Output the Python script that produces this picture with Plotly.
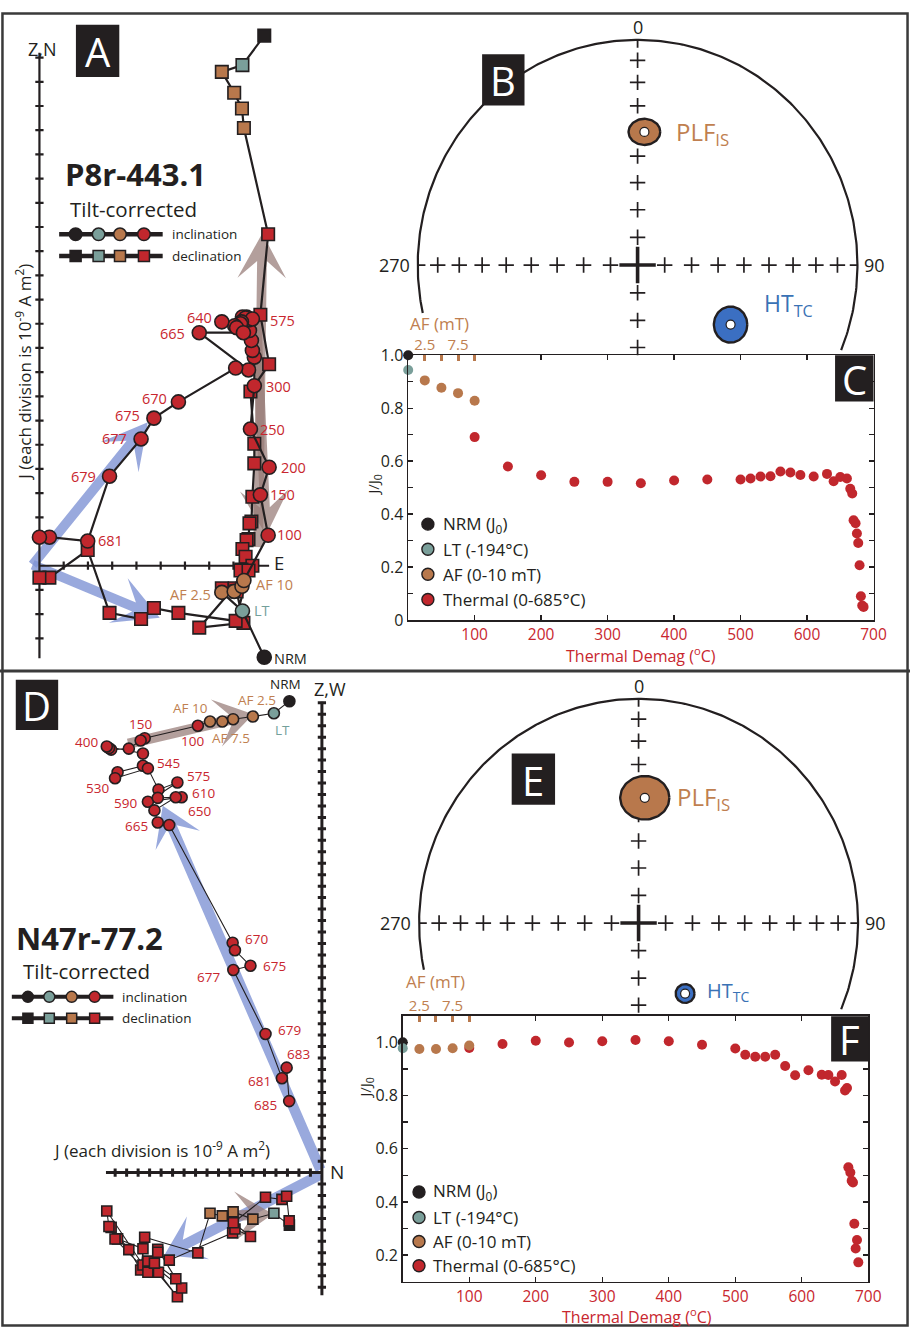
import math
import numpy as np
import plotly.graph_objects as go

W, H = 923, 1339
INK = "#231f20"
RED = "#c1272d"
RED_TXT = "#c8262e"
BROWN = "#b8784c"
BROWN_TXT = "#c07f50"
TEAL = "#7a9f9a"
TEAL_TXT = "#73a09b"
BLUE = "#3b6fc2"
BLUE_TXT = "#3a72b5"
ARROW_BROWN = "rgba(150,122,118,0.72)"
ARROW_BLUE = "rgba(128,148,212,0.80)"
FONT = "Open Sans"

# ---------------------------------------------------------------------------
# P8r-443.1 orthogonal projection (units: divisions of 1e-9 A m^2)
a_step = ["NRM", "LT", "AF 2.5", "AF 5", "AF 7.5", "AF 10",
          "100", "150", "200", "250", "300", "350", "400", "450", "500", "515",
          "530", "545", "560", "575", "590", "610", "630", "640", "650", "660",
          "665", "667", "668", "670", "675", "677", "679", "681", "683", "685"]
a_east = [9.27, 8.37, 7.52, 8.03, 8.35, 8.43,
          9.43, 9.11, 9.47, 8.70, 8.86, 8.86, 8.78, 8.74, 8.66, 8.62,
          8.54, 8.37, 8.50, 8.78, 8.33, 8.29, 8.05, 7.52, 8.13, 8.41,
          6.59, 8.62, 8.09, 5.73, 4.72, 4.19, 2.89, 1.99, 0.41, 0.00]
a_north = [21.91, 20.69, 20.41, 19.55, 18.90, 18.09,
           13.70, 10.37, 8.33, 7.20, 5.04, 4.23, 2.85, 1.83, 1.75, 1.10,
           1.06, 0.69, 0.37, 0.00, -0.16, -0.20, -0.93, -0.93, -1.06, -2.36,
           -2.56, -0.20, -2.28, -1.95, -1.75, -2.20, -1.95, 0.65, -0.49, -0.49]
a_up = [-3.78, -1.87, -1.10, -1.06, -0.85, -0.61,
        1.26, 2.93, 4.07, 5.65, 7.44, 8.62, 8.90, 9.31, 9.72, 10.16,
        10.28, 10.28, 10.24, 10.20, 10.08, 10.00, 9.92, 10.08, 9.84, 9.63,
        9.63, 8.09, 8.17, 6.77, 6.10, 5.24, 3.70, 1.02, 1.18, 1.18]

# N47r-77.2 orthogonal projection
d_step = ["NRM", "LT", "AF 2.5", "AF 5", "AF 7.5", "AF 10",
          "100", "150", "200", "250", "300", "350", "400", "450", "500", "515",
          "530", "545", "560", "575", "590", "610", "630", "650", "660", "665",
          "668", "670", "673", "675", "677", "679", "681", "683", "685"]
d_north = [-2.83, -4.18, -6.01, -7.73, -8.67, -9.74,
           -10.80, -15.43, -15.78, -16.81, -18.35, -18.54, -18.73, -15.58, -15.58, -17.79,
           -18.01, -15.15, -14.23, -12.58, -15.15, -12.21, -14.29, -12.72, -14.58, -14.29,
           -13.29, -7.77, -7.57, -6.22, -7.71, -4.91, -3.48, -3.07, -2.85]
d_up = [41.14, 40.09, 39.80, 39.57, 39.37, 39.37,
        39.00, 37.91, 37.71, 37.00, 36.91, 37.04, 37.19, 36.57, 35.51, 34.94,
        34.42, 35.28, 33.42, 34.05, 32.36, 32.76, 32.70, 32.76, 31.61, 30.56,
        30.33, 20.06, 19.40, 18.05, 17.68, 12.10, 8.24, 9.16, 6.24]
d_west = [-4.58, -3.55, -4.06, -3.43, -3.78, -3.55,
          -7.01, -5.64, -8.50, -6.72, -4.78, -4.70, -3.35, -8.07, -6.64, -5.78,
          -5.80, -8.70, -8.69, -10.84, -7.73, -10.07, -6.70, -9.27, -7.90, -6.95,
          -7.64, -5.26, -4.92, -5.58, -4.38, -2.15, -2.34, -2.06, -4.21]

# component directions drawn as broad arrows (start x, start y, tip x, tip y)
a_arrows = [
    (-0.28, 0.04, 4.47, 5.93, ARROW_BLUE),
    (-0.28, 0.04, 4.96, -2.15, ARROW_BLUE),
    (9.02, 0.77, 9.19, 13.74, ARROW_BROWN),
    (8.94, 10.33, 9.35, 1.26, ARROW_BROWN),
]
d_arrows = [
    (-16.87, 37.42, -5.97, 40.00, ARROW_BROWN),
    (-0.13, 0.26, -13.86, 32.02, ARROW_BLUE),
    (-0.13, -0.17, -13.72, -7.21, ARROW_BLUE),
    (-8.07, -3.78, -4.25, -3.61, ARROW_BROWN),
]

# ---------------------------------------------------------------------------
# Equal-area stereonets: mean directions with confidence ellipses
dir_name = ["PLF<sub>IS</sub>", "HT<sub>TC</sub>"]
b_dec = [3.0, 122.0]
b_inc = [40.5, 48.7]
b_semi_a = [0.072, 0.076]
b_semi_b = [0.058, 0.080]
e_dec = [2.9, 146.0]
e_inc = [43.4, 58.9]
e_semi_a = [0.112, 0.043]
e_semi_b = [0.097, 0.042]

# ---------------------------------------------------------------------------
# Normalised intensity during demagnetisation
af_field = [2.5, 5.0, 7.5, 10.0]          # mT
temps = [100, 150, 200, 250, 300, 350, 400, 450, 500, 515,
         530, 545, 560, 575, 590, 610, 630, 640, 650, 660,
         665, 668, 670, 673, 675, 677, 679, 681, 683, 685]
c_nrm, c_lt = 1.0, 0.944
c_af = [0.905, 0.877, 0.857, 0.828]
c_th = [0.691, 0.580, 0.547, 0.522, 0.522, 0.517, 0.527, 0.531, 0.531, 0.535,
        0.542, 0.543, 0.561, 0.557, 0.548, 0.542, 0.552, 0.524, 0.540, 0.535,
        0.496, 0.478, 0.377, 0.366, 0.327, 0.291, 0.207, 0.090, 0.055, 0.050]
f_nrm, f_lt = 1.0, 0.978
f_af = [0.975, 0.975, 0.978, 0.988]
f_th = [0.979, 0.994, 1.006, 0.999, 1.004, 1.009, 1.004, 0.991, 0.977, 0.953,
        0.946, 0.946, 0.953, 0.911, 0.876, 0.895, 0.878, 0.877, 0.853, 0.877,
        0.819, 0.828, 0.530, 0.511, 0.480, 0.473, 0.318, 0.225, 0.257, 0.173]
AF_TO_AXIS = 10.0   # AF steps share the temperature axis (1 mT -> 10 units)

legend_names = ["NRM (J<sub>0</sub>)", "LT (-194°C)", "AF (0-10 mT)", "Thermal (0-685°C)"]
legend_cols = [INK, TEAL, BROWN, RED]

# ---------------------------------------------------------------------------
# label placement for the orthogonal plots: (anchor, dx px, dy px)
a_label_side = {
    "640": ("right", -8, 4), "665": ("right", -12, -1), "575": ("left", 16, -2),
    "300": ("left", 10, -1), "250": ("left", 8, 0), "200": ("left", 10, 0),
    "150": ("left", 8, 0), "100": ("left", 7, 1), "670": ("right", -9, 3),
    "675": ("right", -12, 3), "677": ("right", -12, 0), "679": ("right", -12, 0),
    "681": ("left", 8, 1), "AF 2.5": ("right", -9, -2), "AF 10": ("left", 10, -4),
    "LT": ("left", 10, 0), "NRM": ("left", 8, -1),
}
d_label_side = {
    "NRM": ("center", -4, 17), "LT": ("center", 9, -17), "AF 2.5": ("center", 4, 17),
    "AF 10": ("right", 0, 13), "AF 7.5": ("left", -12, -17), "100": ("center", -5, -15),
    "150": ("center", -4, 14), "400": ("right", -7, 4), "545": ("left", 7, 5),
    "530": ("right", -4, -10), "575": ("left", 8, 6), "610": ("left", 8, 4),
    "590": ("right", -9, -1), "650": ("left", 10, -14), "665": ("right", -8, -4),
    "670": ("left", 10, 4), "675": ("left", 11, 0), "677": ("right", -11, -7),
    "679": ("left", 10, 4), "683": ("left", -2, 14), "681": ("right", -9, -3),
    "685": ("right", -10, -4),
}


def step_color(s):
    if s == "NRM":
        return INK
    if s == "LT":
        return TEAL
    if s.startswith("AF"):
        return BROWN
    return RED


def label_color(s):
    if s == "NRM":
        return INK
    if s == "LT":
        return TEAL_TXT
    if s.startswith("AF"):
        return BROWN_TXT
    return RED_TXT


def dom_x(x0, x1):
    return [x0 / W, x1 / W]


def dom_y(y0, y1):
    return [1 - y1 / H, 1 - y0 / H]


fig = go.Figure()
ann = []
shapes = []


def text(x, y, s, size, color=INK, xanchor="left", ref=("x7", "y7"), **kw):
    ann.append(dict(x=x, y=y, xref=ref[0], yref=ref[1], text=s, showarrow=False,
                    font=dict(family=FONT, size=size, color=color),
                    xanchor=xanchor, yanchor="middle", **kw))


def arrow_poly(x0, y0, x1, y1, shaft=0.2, head_w=1.0, head_len=1.9, notch=0.62):
    dx, dy = x1 - x0, y1 - y0
    L = math.hypot(dx, dy)
    ux, uy = dx / L, dy / L
    px, py = -uy, ux
    wb = max(L - head_len, 0.0)
    nb = max(L - head_len * notch, 0.0)
    pts = [
        (x0 + px * shaft, y0 + py * shaft),
        (x0 + ux * nb + px * shaft, y0 + uy * nb + py * shaft),
        (x0 + ux * wb + px * head_w, y0 + uy * wb + py * head_w),
        (x1, y1),
        (x0 + ux * wb - px * head_w, y0 + uy * wb - py * head_w),
        (x0 + ux * nb - px * shaft, y0 + uy * nb - py * shaft),
        (x0 - px * shaft, y0 - py * shaft),
    ]
    pts.append(pts[0])
    return [p[0] for p in pts], [p[1] for p in pts]


def cross_axes(x_lo, x_hi, y_lo, y_hi, half):
    xs = [x_lo, x_hi, None, 0, 0, None]
    ys = [0, 0, None, y_lo, y_hi, None]
    for t in range(math.ceil(x_lo), math.floor(x_hi) + 1):
        if t:
            xs += [t, t, None]
            ys += [-half, half, None]
    for t in range(math.ceil(y_lo), math.floor(y_hi) + 1):
        if t:
            xs += [-half, half, None]
            ys += [t, t, None]
    return xs, ys


def zijderveld(xa, ya, hx, horiz, vert, steps, arrows, axis_ext, tick_half, axis_w,
               line_w, circ_size, sq_size, arrow_dims, labels, label_size):
    for (x0, y0, x1, y1, col) in arrows:
        px_, py_ = arrow_poly(x0, y0, x1, y1, *arrow_dims)
        fig.add_trace(go.Scatter(x=px_, y=py_, mode="lines", fill="toself", fillcolor=col,
                                 line=dict(width=0), xaxis=xa, yaxis=ya, hoverinfo="skip"))
    ax_x, ax_y = cross_axes(*axis_ext, tick_half)
    fig.add_trace(go.Scatter(x=ax_x, y=ax_y, mode="lines", line=dict(color=INK, width=axis_w),
                             xaxis=xa, yaxis=ya, hoverinfo="skip", cliponaxis=False))
    cols = [step_color(s) for s in steps]
    fig.add_trace(go.Scatter(x=hx, y=horiz, mode="lines+markers", xaxis=xa, yaxis=ya,
                             line=dict(color=INK, width=line_w), cliponaxis=False,
                             marker=dict(symbol="square", size=sq_size, color=cols,
                                         line=dict(color=INK, width=1.6))))
    fig.add_trace(go.Scatter(x=hx, y=vert, mode="lines+markers", xaxis=xa, yaxis=ya,
                             line=dict(color=INK, width=line_w), cliponaxis=False,
                             marker=dict(symbol="circle", size=circ_size, color=cols,
                                         line=dict(color=INK, width=1.6))))
    for s, (anchor, dx, dy) in labels.items():
        i = steps.index(s)
        text(hx[i], vert[i], s, label_size, label_color(s), xanchor=anchor,
             ref=(xa, ya), xshift=dx, yshift=dy)


# ---------------------------------------------------------------- panel A
zijderveld("x", "y", a_east, a_north, a_up, a_step, a_arrows,
           (0, 9.47, -3.82, 21.2), 0.17, 2.2, 2.2, 14, 12.5,
           (0.2, 1.0, 1.85, 0.62), a_label_side, 14.5)
# ---------------------------------------------------------------- panel D
zijderveld("x4", "y4", d_north, d_west, d_up, d_step, d_arrows,
           (-18.8, 0, -10.7, 41.1), 0.36, 3.0, 1.1, 11, 10,
           (0.45, 2.1, 3.3, 0.62), d_label_side, 13.5)


# ---------------------------------------------------------------- stereonets
def eq_area(dec, inc):
    r = math.sqrt(2) * math.sin(math.radians(90 - abs(inc)) / 2)
    return r * math.sin(math.radians(dec)), r * math.cos(math.radians(dec))


def stereonet(xa, ya, arc_from, arc_to, decs, incs, semi_a, semi_b, label_off, label_sizes):
    t = np.radians(np.linspace(arc_from, arc_to, 300))
    fig.add_trace(go.Scatter(x=np.cos(t), y=np.sin(t), mode="lines", xaxis=xa, yaxis=ya,
                             line=dict(color=INK, width=2.2), hoverinfo="skip", cliponaxis=False))
    # edge ticks at N, E, W
    fig.add_trace(go.Scatter(x=[0, 0, None, 1, 0.965, None, -1, -0.965],
                             y=[1, 0.965, None, 0, 0, None, 0, 0], mode="lines",
                             xaxis=xa, yaxis=ya, line=dict(color=INK, width=1.8),
                             hoverinfo="skip", cliponaxis=False))
    ring = [math.sqrt(2) * math.sin(math.radians(90 - i) / 2) for i in range(10, 90, 10)]
    cx = [r for r in ring] + [-r for r in ring] + [0] * len(ring)
    cy = [0] * (2 * len(ring)) + ring
    cx += [0, 0, 0]
    cy += [-ring[-1], -ring[-2], -ring[-3]]
    fig.add_trace(go.Scatter(x=cx, y=cy, mode="markers", xaxis=xa, yaxis=ya, cliponaxis=False,
                             marker=dict(symbol="cross-thin", size=11,
                                         line=dict(color=INK, width=1.7)), hoverinfo="skip"))
    fig.add_trace(go.Scatter(x=[0], y=[0], mode="markers", xaxis=xa, yaxis=ya,
                             marker=dict(symbol="cross-thin", size=26,
                                         line=dict(color=INK, width=3.6)), hoverinfo="skip"))
    fills = [BROWN, BLUE]
    tcols = [BROWN_TXT, BLUE_TXT]
    for k in range(len(decs)):
        x0, y0 = eq_area(decs[k], incs[k])
        tt = np.linspace(0, 2 * np.pi, 90)
        fig.add_trace(go.Scatter(x=x0 + semi_a[k] * np.cos(tt), y=y0 + semi_b[k] * np.sin(tt),
                                 mode="lines", fill="toself", fillcolor=fills[k],
                                 line=dict(color=INK, width=2.4), xaxis=xa, yaxis=ya,
                                 hoverinfo="skip", cliponaxis=False))
        fig.add_trace(go.Scatter(x=[x0], y=[y0], mode="markers", xaxis=xa, yaxis=ya,
                                 marker=dict(size=9, color="white", line=dict(color=INK, width=1.2)),
                                 hoverinfo="skip"))
        dx, dy = label_off[k]
        text(x0, y0, dir_name[k], label_sizes[k], tcols[k], ref=(xa, ya), xshift=dx, yshift=dy)
    text(0, 1, "0", 18, ref=(xa, ya), xanchor="center", yshift=13)
    text(-1, 0, "270", 18, ref=(xa, ya), xanchor="right", xshift=-6)
    text(1, 0, "90", 18, ref=(xa, ya), xanchor="left", xshift=5)


stereonet("x2", "y2", -22.2, 192.3, b_dec, b_inc, b_semi_a, b_semi_b,
          [(30, -1), (31, 20)], [24, 23])
stereonet("x5", "y5", -22.6, 192.0, e_dec, e_inc, e_semi_a, e_semi_b,
          [(30, 0), (20, 2)], [24, 20])


# ---------------------------------------------------------------- demag curves
def demag(xa, ya, xtop, nrm, lt, af, th):
    fig.add_trace(go.Scatter(x=[0], y=[nrm], mode="markers", xaxis=xa, yaxis=ya,
                             marker=dict(size=10, color=INK), cliponaxis=False))
    fig.add_trace(go.Scatter(x=[0], y=[lt], mode="markers", xaxis=xa, yaxis=ya,
                             marker=dict(size=10, color=TEAL), cliponaxis=False))
    fig.add_trace(go.Scatter(x=temps, y=th, mode="markers", xaxis=xa, yaxis=ya,
                             marker=dict(size=10, color=RED), cliponaxis=False))
    fig.add_trace(go.Scatter(x=[f * AF_TO_AXIS for f in af_field], y=af, mode="markers",
                             xaxis=xa, yaxis=ya, marker=dict(size=10, color=BROWN),
                             cliponaxis=False))
    fig.add_trace(go.Scatter(x=[None], y=[None], xaxis=xtop, yaxis=ya, hoverinfo="skip"))


demag("x3", "y3", "x8", c_nrm, c_lt, c_af, c_th)
demag("x6", "y6", "x9", f_nrm, f_lt, f_af, f_th)


# ---------------------------------------------------------------- decorations (pixel frame)
def legend_row(x_marks, y, symbol, size, lx0, lx1, lw):
    fig.add_trace(go.Scatter(x=[lx0, lx1], y=[y, y], mode="lines", xaxis="x7", yaxis="y7",
                             line=dict(color=INK, width=lw), hoverinfo="skip"))
    fig.add_trace(go.Scatter(x=x_marks, y=[y] * len(x_marks), mode="markers", xaxis="x7",
                             yaxis="y7", hoverinfo="skip",
                             marker=dict(symbol=symbol, size=size, color=legend_cols,
                                         line=dict(color=INK, width=1.5))))


legend_row([76.7, 100, 121.7, 146], 227, "circle", 12.5, 60, 165, 4.5)
legend_row([76.7, 100, 121.7, 146], 249, "square", 11, 60, 165, 4.5)
legend_row([28.3, 50, 72.7, 96], 1002.3, "circle", 11, 12, 115, 4)
legend_row([28.3, 50, 72.7, 96], 1024, "square", 10, 12, 115, 4)

# demag legends
for (mx, tx, ys) in [(434, 447, [521.7, 547.3, 572.7, 598.3]),
                     (425, 437, [1200.7, 1226.7, 1251, 1275.7])]:
    fig.add_trace(go.Scatter(x=[mx] * 4, y=ys, mode="markers", xaxis="x7", yaxis="y7",
                             hoverinfo="skip",
                             marker=dict(size=12, color=legend_cols, line=dict(color=INK, width=1.4))))
    for name, yy in zip(legend_names, ys):
        text(tx, yy, name, 17, INK)

# sample names and legend texts
text(64, 166, "<b>P8r-443.1</b>", 31)
text(69, 201, "Tilt-corrected", 20.5)
text(172, 227, "inclination", 13.5)
text(172, 249, "declination", 13.5)
text(14, 942, "<b>N47r-77.2</b>", 31)
text(21, 976, "Tilt-corrected", 20.5)
text(122, 1002.3, "inclination", 13.5)
text(122, 1024, "declination", 13.5)

# axis names of the orthogonal plots
text(43, 39, "Z,N", 18, xanchor="center")
text(276, 561, "E", 18.5)
text(24, 367, "J (each division is 10<sup>-9</sup> A m<sup>2</sup>)", 17, xanchor="center",
     textangle=-90)
text(316, 689, "Z,W", 18)
text(333, 1180, "N", 19)
text(164, 1158, "J (each division is 10<sup>-9</sup> A m<sup>2</sup>)", 17, xanchor="center")

# demag axis titles
for (tx, ty, jx, jy, afx, afy) in [(650, 655, 379, 482, 414, 318),
                                   (646, 1327, 371, 1095, 410, 987)]:
    text(tx, ty, "Thermal Demag (<sup>o</sup>C)", 16, RED_TXT, xanchor="center")
    text(jx, jy, "J/J<sub>0</sub>", 15, xanchor="center", textangle=-90)
    text(afx, afy, "AF (mT)", 17, BROWN_TXT)

# panel letters
for (lab, x0, y0, x1, y1) in [("A", 77, 14, 121, 67), ("B", 489, 44, 532, 96),
                              ("C", 847, 350, 886, 397), ("D", 16, 680, 59, 731),
                              ("E", 519, 755, 563, 807), ("F", 843, 1022, 881, 1068)]:
    shapes.append(dict(type="rect", xref="x7", yref="y7", x0=x0, x1=x1, y0=y0, y1=y1,
                       fillcolor=INK, line=dict(width=0), layer="above"))
    text((x0 + x1) / 2, (y0 + y1) / 2 + 1, lab, 40, "white", xanchor="center")

# outer frame and divider
shapes.append(dict(type="rect", xref="x7", yref="y7", x0=2.5, x1=920.5, y0=2.5, y1=1336.5,
                   line=dict(color="#3a3a3a", width=2.5), layer="above"))
shapes.append(dict(type="line", xref="x7", yref="y7", x0=0, x1=W, y0=671, y1=671,
                   line=dict(color="#3a3a3a", width=3), layer="above"))


# ---------------------------------------------------------------- axes
def hidden(domain, rng, anchor):
    return dict(domain=domain, range=rng, visible=False, fixedrange=True, anchor=anchor)


A_O, A_S = (40, 564), 24.6
D_O, D_S = (326.5, 1181), 11.65
B_C, B_R = (646.7, 258.3), (223, 229)
E_C, E_R = (647.7, 927.3), (222.6, 228)


def zij_axes(px0, px1, py0, py1, origin, s, anchor_x, anchor_y):
    return (hidden(dom_x(px0, px1), [(px0 - origin[0]) / s, (px1 - origin[0]) / s], anchor_y),
            hidden(dom_y(py0, py1), [(origin[1] - py1) / s, (origin[1] - py0) / s], anchor_x))


def net_axes(px0, px1, py0, py1, c, r, anchor_x, anchor_y):
    return (hidden(dom_x(px0, px1), [(px0 - c[0]) / r[0], (px1 - c[0]) / r[0]], anchor_y),
            hidden(dom_y(py0, py1), [(c[1] - py1) / r[1], (c[1] - py0) / r[1]], anchor_x))


def demag_axes(px0, px1, py0, py1, yr, anchor_x, anchor_y):
    labelled = [v / 10 for v in range(0, 11, 2) if yr[0] - 1e-9 <= v / 10 <= yr[1] + 1e-9]
    ylab = ["0" if v == 0 else f"{v:.1f}" for v in labelled]
    tick = dict(ticks="inside", ticklen=5, tickwidth=1.4, tickcolor=INK)
    xa = dict(domain=dom_x(px0, px1), range=[0, 700], anchor=anchor_y, showgrid=False,
              zeroline=False, showline=True, linecolor=INK, linewidth=1.6, mirror="ticks",
              tickvals=[100, 200, 300, 400, 500, 600, 700], ticklabelstandoff=0,
              tickfont=dict(family=FONT, size=15.5, color=RED_TXT), fixedrange=True, **tick)
    ya = dict(domain=dom_y(py0, py1), range=list(yr), anchor=anchor_x, showgrid=False,
              zeroline=False, showline=True, linecolor=INK, linewidth=1.6, mirror="ticks",
              tickvals=labelled, ticktext=ylab,
              minor=dict(dtick=0.1, tick0=0, ticks="inside", ticklen=5, tickwidth=1.4,
                         tickcolor=INK),
              tickfont=dict(family=FONT, size=16, color=INK), fixedrange=True, **tick)
    return xa, ya


def af_axis(base, anchor_y):
    return dict(overlaying=base, anchor=anchor_y, side="top", range=[0, 700],
                tickvals=[af_field[0] * AF_TO_AXIS, af_field[2] * AF_TO_AXIS],
                ticktext=["2.5", "7.5"], ticks="inside", ticklen=6, tickwidth=3,
                tickcolor=BROWN, tickfont=dict(family=FONT, size=15, color=BROWN_TXT),
                ticklabelstandoff=1,
                minor=dict(tickmode="array",
                           tickvals=[af_field[1] * AF_TO_AXIS, af_field[3] * AF_TO_AXIS],
                           ticks="inside", ticklen=6, tickwidth=3, tickcolor=BROWN),
                showgrid=False, zeroline=False, showline=False, fixedrange=True)


xa1, ya1 = zij_axes(4, 380, 4, 668, A_O, A_S, "x", "y")
xa2, ya2 = net_axes(380, 919, 4, 346, B_C, B_R, "x2", "y2")
xa3, ya3 = demag_axes(414, 886, 350, 619.3, (0.0, 1.0), "x3", "y3")
xa4, ya4 = zij_axes(4, 380, 674, 1335, D_O, D_S, "x4", "y4")
xa5, ya5 = net_axes(380, 919, 674, 1016, E_C, E_R, "x5", "y5")
xa6, ya6 = demag_axes(408.5, 880.7, 1021.5, 1292, (0.1, 1.1), "x6", "y6")

fig.update_layout(
    width=W, height=H, margin=dict(l=0, r=0, t=0, b=0),
    paper_bgcolor="white", plot_bgcolor="rgba(0,0,0,0)", showlegend=False,
    font=dict(family=FONT, color=INK),
    xaxis=xa1, yaxis=ya1, xaxis2=xa2, yaxis2=ya2, xaxis3=xa3, yaxis3=ya3,
    xaxis4=xa4, yaxis4=ya4, xaxis5=xa5, yaxis5=ya5, xaxis6=xa6, yaxis6=ya6,
    xaxis7=hidden([0, 1], [0, W], "y7"), yaxis7=hidden([0, 1], [H, 0], "x7"),
    xaxis8=af_axis("x3", "y3"), xaxis9=af_axis("x6", "y6"),
    annotations=ann, shapes=shapes,
)
fig.write_html("out.html", config={"displayModeBar": False, "staticPlot": True})
